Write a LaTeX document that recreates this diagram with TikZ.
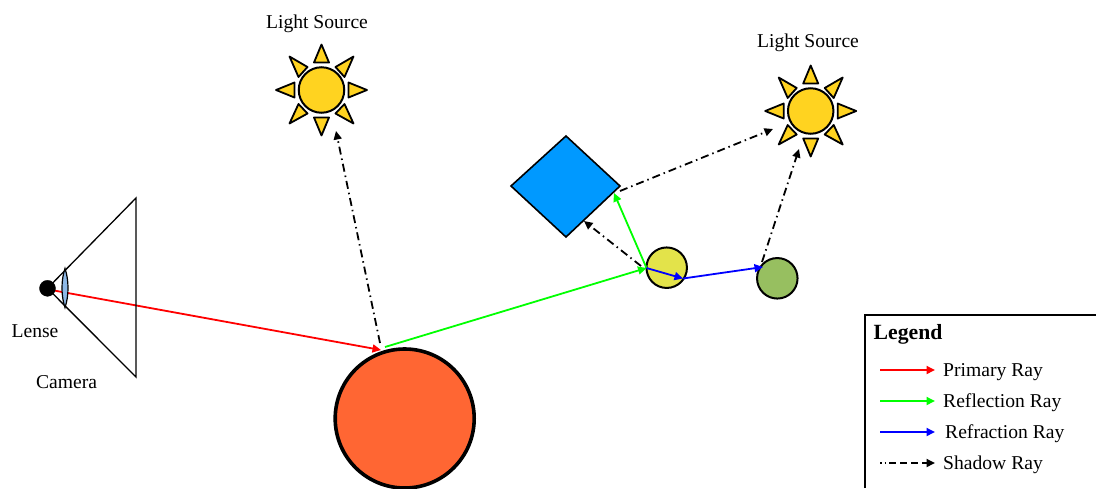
\documentclass[tikz,border=0pt]{standalone}
\usepackage{fontspec}
\setmainfont{Liberation Serif}
\usetikzlibrary{arrows.meta}
\definecolor{sunfill}{HTML}{FFD320}
\definecolor{ballred}{HTML}{FF6633}
\definecolor{boxblue}{HTML}{0099FF}
\definecolor{ballyellow}{HTML}{E3E34A}
\definecolor{ballgreen}{HTML}{97BF60}
\definecolor{lensblue}{HTML}{8DB8E6}
\definecolor{rayred}{HTML}{FF0000}
\definecolor{raygreen}{HTML}{00FF00}
\definecolor{rayblue}{HTML}{0000FF}
\tikzset{
  x=1pt,y=-1pt,
  ball/.style={circle,draw=black,inner sep=0pt,line width=2pt},
  label/.style={inner sep=0pt,font=\fontsize{19.6}{22}\selectfont},
  leglabel/.style={label,anchor=west},
  ray/.style={line width=1.8pt,-{Triangle[length=8.5pt,width=8pt]}},
  primaryray/.style={ray,rayred},
  reflectray/.style={ray,raygreen},
  refractray/.style={ray,rayblue},
  shadowray/.style={ray,black,dash pattern=on 8pt off 4pt on 1.5pt off 4pt},
  legshadow/.style={ray,black,dash pattern=on 1.5pt off 3pt on 1.5pt off 3pt on 7pt off 4pt on 7pt off 4pt on 7pt off 4pt on 12pt off 4pt},
  sunray/.style={draw=black,fill=sunfill,line width=1.8pt,line join=round},
  sun/.pic={
    \node[ball,fill=sunfill,minimum size=45.5pt] (-disc) at (0,0) {};
    \draw[sunray] (-7.5,-27.5) -- (0,-45.5) -- (7.5,-27.5) -- cycle;
    \draw[sunray] (-7.5,27.5) -- (0,45.5) -- (7.5,27.5) -- cycle;
    \draw[sunray] (27,-7.5) -- (45.5,0) -- (27,7.5) -- cycle;
    \draw[sunray] (-27,-7.5) -- (-45.5,0) -- (-27,7.5) -- cycle;
    \draw[sunray] (32,-33.5) -- (14,-23) -- (23,-13) -- cycle;
    \draw[sunray] (-32,-33.5) -- (-14,-23) -- (-23,-13) -- cycle;
    \draw[sunray] (32,33.5) -- (23,14) -- (14,23.5) -- cycle;
    \draw[sunray] (-32,33.5) -- (-23,14) -- (-14,23.5) -- cycle;
  }
}
\begin{document}
\begin{tikzpicture}
\clip (0,0) rectangle (1096,488);
% ray end points
\coordinate (p0) at (54,290.5);
\coordinate (p1) at (381,350);
\coordinate (p2) at (385,347);
\coordinate (p3) at (646.5,268);
\coordinate (p4) at (614,193);
\coordinate (p5) at (683,278.5);
\coordinate (p6) at (763,267);
\coordinate (s1) at (380,343);
\coordinate (s2) at (336,131);
\coordinate (s3) at (641,266);
\coordinate (s4) at (584,221);
\coordinate (s5) at (620,191);
\coordinate (s6) at (773,129);
\coordinate (s7) at (762,262);
\coordinate (s8) at (799,149);
\draw[primaryray] (p0) -- (p1);
% camera
\draw[line width=1.3pt,line join=miter] (136,198) -- (136,377) -- (47.5,288.3) -- cycle;
\node[circle,fill=black,draw=black,inner sep=0pt,minimum size=16pt] (eye) at (47.5,288.3) {};
\draw[draw=black,fill=lensblue,line width=1.2pt] (65,268.5) .. controls (61,280) and (61,296) .. (65,307.5) .. controls (69,296) and (69,280) .. (65,268.5) -- cycle;
\node[label] (lense) at (35,331.5) {Lense};
\node[label] (camera) at (66.5,382.5) {Camera};
% suns
\pic (sunA) at (321.5,90) {sun};
\pic (sunB) at (810.7,111) {sun};
\node[label] (srcA) at (317,24) {Light Source};
\node[label] (srcB) at (808,43) {Light Source};
% objects
\node[ball,fill=ballred,minimum size=139pt,line width=3.6pt] (big) at (404.7,418.5) {};
\node[ball,fill=ballyellow,minimum size=40.5pt] (yellow) at (666.7,267.7) {};
\node[ball,fill=ballgreen,minimum size=40.5pt] (green) at (777.3,278.3) {};
\path[draw=black,fill=boxblue,line width=1.6pt,line join=miter] (566,136) coordinate (dT) -- (620,186) coordinate (dR) -- (566,237) coordinate (dB) -- (511,186) coordinate (dL) -- cycle;
% rays
\draw[reflectray] (p2) -- (p3);
\draw[reflectray] (p3) -- (p4);
\draw[refractray] (p3) -- (p5);
\draw[refractray] (p5) -- (p6);
\draw[shadowray] (s1) -- (s2);
\draw[shadowray] (s3) -- (s4);
\draw[shadowray] (s5) -- (s6);
\draw[shadowray] (s7) -- (s8);
% legend
\draw[line width=1.8pt] (865,488) -- (865,315) -- (1096,315);
\node[label,anchor=west,font=\fontsize{21.7}{24}\selectfont\bfseries] (legtitle) at (873.5,334.5) {Legend};
\coordinate (a1) at (880,370); \coordinate (b1) at (935,370);
\coordinate (a2) at (880,401); \coordinate (b2) at (935,401);
\coordinate (a3) at (880,432); \coordinate (b3) at (935,432);
\coordinate (a4) at (880,463); \coordinate (b4) at (935,463);
\draw[primaryray] (a1) -- (b1);
\draw[reflectray] (a2) -- (b2);
\draw[refractray] (a3) -- (b3);
\draw[legshadow] (a4) -- (b4);
\node[leglabel] (l1) at (943,372) {Primary Ray};
\node[leglabel] (l2) at (943,402.5) {Reflection Ray};
\node[leglabel] (l3) at (945,434) {Refraction Ray};
\node[leglabel] (l4) at (943,464.5) {Shadow Ray};
\end{tikzpicture}
\end{document}
